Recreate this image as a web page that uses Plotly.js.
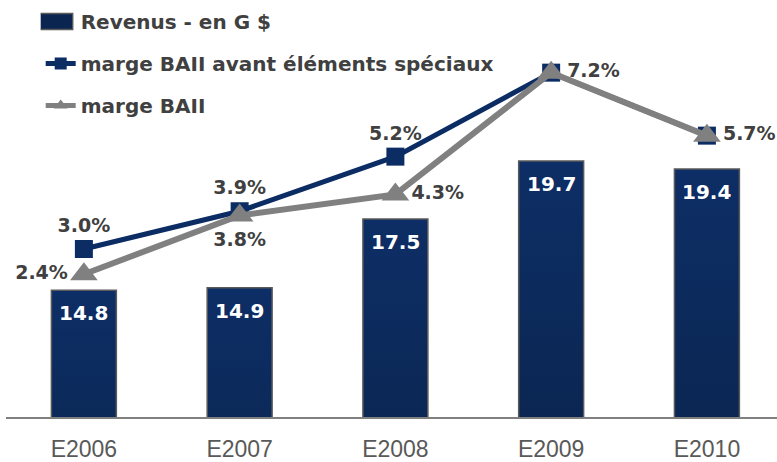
<!DOCTYPE html>
<html><head><meta charset="utf-8">
<script src="https://cdn.plot.ly/plotly-3.0.1.min.js"></script>
<style>html,body{margin:0;padding:0;background:#fff}#chart{width:777px;height:462px}</style>
</head><body><div id="chart"></div>
<script>
const categories = ['E2006','E2007','E2008','E2009','E2010'];
const revenus = [14.8, 14.9, 17.5, 19.7, 19.4];
const margeAvant = [3.0, 3.9, 5.2, 7.2, 5.7];
const margeBAII = [2.4, 3.8, 4.3, 7.2, 5.7];
const revenusLabels = ['14.8','14.9','17.5','19.7','19.4'];
const margeAvantLabels = ['3.0%','3.9%','5.2%','',''];
const margeBAIILabels = ['2.4%','3.8%','4.3%','7.2%','5.7%'];
const seriesNames = ['Revenus - en G $','marge BAII avant éléments spéciaux','marge BAII'];

const NAVY = '#0c2c64', GREY = '#808080', TXT = '#404040';
const boldFont = {family:'DejaVu Sans', size:19, color:TXT, weight:'bold'};

const traces = [
  {type:'bar', x:categories, y:revenus, name:seriesNames[0], legendgroup:'a',
   marker:{color:'#0a2550', line:{color:'#5a5a5a', width:1.5}}, hoverinfo:'none'},
  {type:'scatter', mode:'lines+markers+text', x:categories, y:margeAvant, yaxis:'y2',
   name:seriesNames[1], legendgroup:'b', text:margeAvantLabels,
   textposition:['top center','top center','top center','middle right','middle right'],
   textfont:boldFont, line:{color:NAVY, width:5},
   marker:{symbol:'square', size:18, color:NAVY}, hoverinfo:'none', cliponaxis:false},
  {type:'scatter', mode:'lines+markers+text', x:categories, y:margeBAII, yaxis:'y2',
   name:seriesNames[2], legendgroup:'c', text:margeBAIILabels,
   textposition:['middle left','bottom center','middle right','middle right','middle right'],
   textfont:boldFont, line:{color:GREY, width:6},
   marker:{symbol:'triangle-up', size:24, color:GREY}, hoverinfo:'none', cliponaxis:false}
];

const annotations = categories.map((c,i)=>({
  x:c, y:revenus[i], xref:'x', yref:'y', text:revenusLabels[i], showarrow:false,
  yanchor:'top', yshift:-9, font:{family:'DejaVu Sans', size:20, color:'#ffffff', weight:'bold'}
}));

const layout = {
  width:777, height:462, margin:{l:6, r:0, t:0, b:45, pad:0},
  paper_bgcolor:'#ffffff', plot_bgcolor:'#ffffff',
  showlegend:true,
  legend:{x:0.045, y:0.995, xanchor:'left', yanchor:'top', bgcolor:'rgba(0,0,0,0)',
          font:{family:'DejaVu Sans', size:20, color:TXT, weight:'bold'},
          tracegroupgap:13, traceorder:'grouped', itemsizing:'constant'},
  bargap:0.583,
  xaxis:{type:'category', range:[-0.5,4.45], showline:true, linecolor:'#808080', linewidth:2,
         ticks:'', showgrid:false, zeroline:false, ticklabelstandoff:10,
         tickfont:{family:'Liberation Sans', size:23, color:'#595959'}},
  yaxis:{range:[10,25.8], visible:false, showgrid:false, zeroline:false},
  yaxis2:{range:[-1,8.93], overlaying:'y', side:'right', visible:false, showgrid:false, zeroline:false},
  annotations:annotations
};

Plotly.newPlot('chart', traces, layout, {staticPlot:true, displayModeBar:false}).then(gd=>{
  const svg = gd.querySelector('.main-svg');
  let defs = svg.querySelector('defs');
  const ns = 'http://www.w3.org/2000/svg';
  if(!defs){ defs = document.createElementNS(ns,'defs'); svg.insertBefore(defs, svg.firstChild); }
  const g = document.createElementNS(ns,'linearGradient');
  g.setAttribute('id','barGrad'); g.setAttribute('x1','0'); g.setAttribute('y1','0');
  g.setAttribute('x2','0'); g.setAttribute('y2','1');
  [['0%','#0d2e66'],['45%','#0b2754'],['100%','#051630']].forEach(([o,c])=>{
    const s = document.createElementNS(ns,'stop'); s.setAttribute('offset',o); s.setAttribute('stop-color',c); g.appendChild(s);
  });
  defs.appendChild(g);
  gd.querySelectorAll('.barlayer .point path').forEach(p=>p.style.setProperty('fill','url(#barGrad)'));
  // widen the bar swatch in the legend
  gd.querySelectorAll('.legend .legendbar path, .legend .legendpoints path.legendundefined').forEach(p=>{
    p.setAttribute('d','M12,8H-23V-8H12Z');
    p.style.setProperty('stroke','#5a5a5a'); p.style.setProperty('stroke-width','1.5px');
  });
});
</script>
</body></html>
